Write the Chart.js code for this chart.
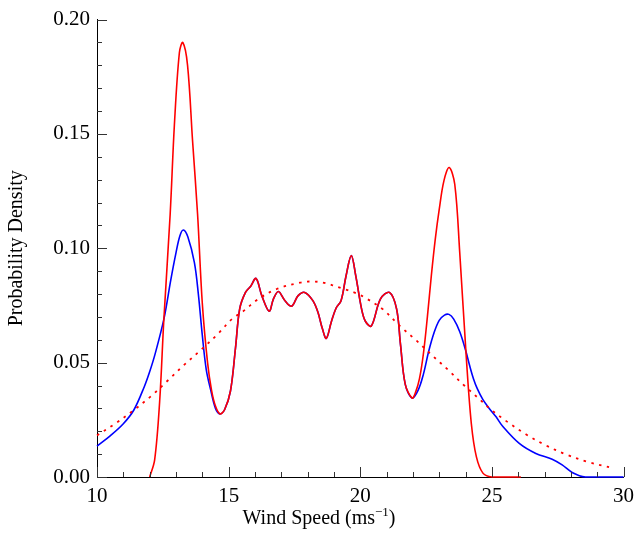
<!DOCTYPE html>
<html>
<head>
<meta charset="utf-8">
<script src="https://cdn.jsdelivr.net/npm/chart.js@4.4.0/dist/chart.umd.min.js"></script>
<style>
body { margin: 0; background: #fff; }
</style>
</head>
<body>
<canvas id="windChart" width="641" height="533"></canvas>
<script>

// shared part of both solid curves (they lie on top of each other here)
const midX = [14.67, 14.85, 15.07, 15.26, 15.42, 15.64, 15.83, 16.04, 16.26, 16.54, 16.7, 16.89, 17.14, 17.39, 17.64, 17.89, 18.2, 18.39, 18.56, 18.71, 18.9, 19.08, 19.27, 19.46, 19.66, 19.83, 20.05, 20.2, 20.42, 20.77, 21.11, 21.38, 21.53, 21.71, 21.97];
const midY = [0.0276, 0.0295, 0.0376, 0.0563, 0.0735, 0.0807, 0.0833, 0.0868, 0.0793, 0.0725, 0.0778, 0.0811, 0.0771, 0.0747, 0.0793, 0.0807, 0.0771, 0.0721, 0.0649, 0.0606, 0.0678, 0.0738, 0.0771, 0.0879, 0.0968, 0.0879, 0.0735, 0.068, 0.066, 0.0779, 0.0807, 0.0735, 0.0578, 0.0405, 0.0345];

// blue curve
const blueLeftX = [10, 10.5, 11, 11.4, 11.8, 12, 12.2, 12.54, 12.8, 13, 13.15, 13.28, 13.45, 13.7, 13.85, 14, 14.15, 14.32, 14.5];
const blueLeftY = [0.0135, 0.018, 0.0233, 0.0293, 0.0396, 0.046, 0.0535, 0.069, 0.086, 0.098, 0.1055, 0.108, 0.105, 0.0937, 0.080, 0.062, 0.047, 0.038, 0.030];
const blueRightX = [22.2, 22.4, 22.6, 22.8, 23.0, 23.2, 23.37, 23.55, 23.78, 24.0, 24.16, 24.3, 24.45, 24.66, 24.9, 25.16, 25.41, 26.04, 26.67, 27.29, 27.67, 28.05, 28.55, 30];
const blueRightY = [0.038, 0.045, 0.055, 0.063, 0.0685, 0.0708, 0.0711, 0.069, 0.0635, 0.0555, 0.0485, 0.043, 0.0385, 0.0338, 0.030, 0.0263, 0.0222, 0.0147, 0.0103, 0.0078, 0.0053, 0.002, 0, 0];

// red solid curve
const redLeftX = [12, 12.19, 12.38, 12.54, 12.78, 12.94, 13.13, 13.26, 13.44, 13.63, 13.82, 14, 14.2, 14.35, 14.5];
const redLeftY = [0, 0.0075, 0.033, 0.069, 0.115, 0.154, 0.1856, 0.19, 0.18, 0.147, 0.115, 0.076, 0.05, 0.038, 0.031];
const redRightX = [22.1, 22.25, 22.4, 22.55, 22.7, 22.85, 23.0, 23.18, 23.38, 23.59, 23.78, 24.03, 24.22, 24.41, 24.66, 25, 26.1];
const redRightY = [0.037, 0.043, 0.054, 0.070, 0.088, 0.104, 0.117, 0.1296, 0.1353, 0.128, 0.098, 0.052, 0.0233, 0.0089, 0.0017, 0, 0];

// red dotted fit
const fitX = [10, 10.69, 11.4, 12.07, 12.69, 13.32, 13.95, 14.57, 15.14, 15.51, 16.14, 16.83, 17.71, 18.14, 18.58, 19.33, 19.83, 20.15, 20.84, 21.47, 22.15, 22.71, 23.35, 23.97, 24.6, 24.91, 25.6, 26.29, 27.04, 27.79, 28.61, 29.45];
const fitY = [0.0182, 0.0233, 0.0293, 0.0355, 0.0422, 0.0491, 0.0556, 0.0623, 0.0692, 0.0721, 0.0779, 0.0822, 0.085, 0.0855, 0.085, 0.0824, 0.0804, 0.0786, 0.0735, 0.0664, 0.0595, 0.0534, 0.0467, 0.0398, 0.0333, 0.030, 0.024, 0.0187, 0.0139, 0.010, 0.0067, 0.0043];

const xTicks = [10, 15, 20, 25, 30];
const yTicks = [0, 0.05, 0.10, 0.15, 0.20];

function pts(xs, ys) {
    return xs.map((x, i) => ({x: x, y: ys[i]}));
}

const serif = "'Liberation Serif', 'Times New Roman', serif";

// inward tick marks, major and minor
const innerTicks = {
    id: 'innerTicks',
    afterDatasetsDraw(chart) {
        const {ctx, chartArea, scales} = chart;
        ctx.save();
        ctx.strokeStyle = '#333';
        ctx.lineWidth = 1;
        ctx.beginPath();
        for (let v = 0; v <= 20; v++) {
            let y = Math.round(scales.y.getPixelForValue(v / 100)) + 0.5;
            let len = v % 5 === 0 ? 10 : 5;
            ctx.moveTo(chartArea.left, y);
            ctx.lineTo(chartArea.left + len, y);
        }
        for (let v = 10; v <= 30; v++) {
            let x = Math.round(scales.x.getPixelForValue(v)) + 0.5;
            let len = v % 5 === 0 ? 10 : 5;
            ctx.moveTo(x, chartArea.bottom);
            ctx.lineTo(x, chartArea.bottom - len);
        }
        ctx.stroke();
        ctx.restore();
    }
};

// x axis title with superscript, centred on the page
const xTitle = {
    id: 'xTitle',
    afterDraw(chart) {
        const ctx = chart.ctx;
        let a = 'Wind Speed (ms', sup = '\u22121', b = ')';
        ctx.save();
        ctx.fillStyle = '#000';
        ctx.textBaseline = 'alphabetic';
        ctx.font = '20px ' + serif;
        let wa = ctx.measureText(a).width;
        let wb = ctx.measureText(b).width;
        ctx.font = '13px ' + serif;
        let ws = ctx.measureText(sup).width;
        let x = 319 - (wa + ws + wb) / 2;
        let y = 524;
        ctx.font = '20px ' + serif;
        ctx.fillText(a, x, y);
        ctx.font = '13px ' + serif;
        ctx.fillText(sup, x + wa, y - 8);
        ctx.font = '20px ' + serif;
        ctx.fillText(b, x + wa + ws, y);
        ctx.restore();
    }
};

const lineStyle = { pointRadius: 0, tension: 0.35, clip: 3 };

new Chart(document.getElementById('windChart'), {
    type: 'line',
    data: {
        datasets: [
            Object.assign({
                data: pts(redLeftX.concat(midX, redRightX), redLeftY.concat(midY, redRightY)),
                borderColor: '#ff0000',
                borderWidth: 1.6
            }, lineStyle),
            Object.assign({
                data: pts(fitX, fitY),
                borderColor: '#ff0000',
                borderWidth: 1.8,
                borderDash: [2.5, 5.5]
            }, lineStyle),
            Object.assign({
                data: pts(blueLeftX.concat(midX, blueRightX), blueLeftY.concat(midY, blueRightY)),
                borderColor: '#0000ff',
                borderWidth: 1.6
            }, lineStyle)
        ]
    },
    options: {
        responsive: false,
        animation: false,
        layout: { padding: { top: 13, right: 12, left: 0, bottom: 0 } },
        plugins: {
            legend: { display: false },
            tooltip: { enabled: false }
        },
        scales: {
            x: {
                type: 'linear',
                min: 10,
                max: 30,
                afterFit: s => { s.height = 56; },
                afterBuildTicks: s => { s.ticks = xTicks.map(v => ({value: v})); },
                grid: { display: false, drawTicks: false },
                border: { display: true, color: '#000', width: 1 },
                ticks: {
                    padding: 7,
                    color: '#000',
                    font: { family: serif, size: 21 },
                    maxRotation: 0
                }
            },
            y: {
                min: 0,
                max: 0.2,
                afterFit: s => { s.width = 97; },
                afterBuildTicks: s => { s.ticks = yTicks.map(v => ({value: v})); },
                grid: { display: false, drawTicks: false },
                border: { display: true, color: '#000', width: 1 },
                ticks: {
                    padding: 7,
                    color: '#000',
                    font: { family: serif, size: 21 },
                    callback: v => v.toFixed(2)
                },
                title: {
                    display: true,
                    text: 'Probability Density',
                    color: '#000',
                    font: { family: serif, size: 20 },
                    padding: { top: 5 }
                }
            }
        }
    },
    plugins: [innerTicks, xTitle]
});
</script>
</body>
</html>
